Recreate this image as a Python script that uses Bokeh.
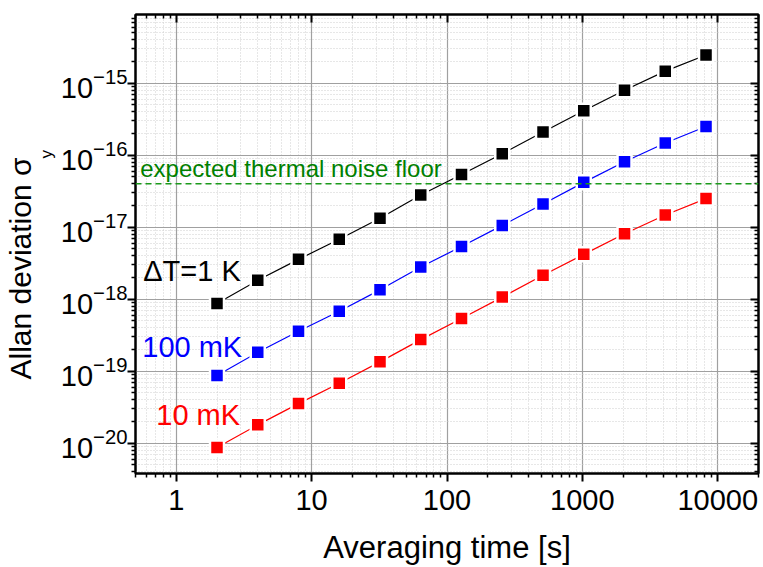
from bokeh.plotting import figure
from bokeh.models import (LogAxis, FixedTicker, LogTickFormatter, NumeralTickFormatter,
                          CustomJSTickFormatter, Label, Span, Title)
from bokeh.embed import file_html
from bokeh.resources import INLINE

# ---- data ----
tau = [2, 4, 8, 16, 32, 64, 128, 256, 512, 1024, 2048, 4096, 8192]
sigma_1K = [8.7e-19, 1.83e-18, 3.58e-18, 6.8e-18, 1.33e-17, 2.8e-17, 5.4e-17,
            1.05e-16, 2.1e-16, 4.15e-16, 8.0e-16, 1.47e-15, 2.47e-15]
sigma_100mK = [8.7e-20, 1.83e-19, 3.6e-19, 6.8e-19, 1.35e-18, 2.8e-18, 5.4e-18,
               1.06e-17, 2.1e-17, 4.2e-17, 8.1e-17, 1.48e-16, 2.5e-16]
sigma_10mK = [8.7e-21, 1.8e-20, 3.55e-20, 6.8e-20, 1.35e-19, 2.75e-19, 5.4e-19,
              1.07e-18, 2.15e-18, 4.2e-18, 8.1e-18, 1.48e-17, 2.5e-17]
noise_floor = 4.0e-17

x_ticks = [1, 10, 100, 1000, 10000]
y_ticks = [1e-20, 1e-19, 1e-18, 1e-17, 1e-16, 1e-15]

FONT = "Liberation Sans"

x_minor = [k * 10.0 ** e for e in range(-1, 5) for k in range(2, 10)]
y_minor = [k * 10.0 ** e for e in range(-22, -14) for k in range(2, 10)]

p = figure(width=763, height=567, x_axis_type="log", y_axis_type="log",
           x_range=(0.5, 20000), y_range=(3.8e-21, 9e-15),
           output_backend="svg", toolbar_location=None,
           min_border_left=135, min_border_right=5, min_border_top=14,
           min_border_bottom=93)
p.outline_line_color = "black"
p.outline_line_width = 2
p.background_fill_color = "white"
p.border_fill_color = "white"

xt = FixedTicker(ticks=x_ticks, minor_ticks=x_minor)
yt = FixedTicker(ticks=y_ticks, minor_ticks=y_minor)

xa = p.xaxis[0]
xa.ticker = xt
xa.formatter = NumeralTickFormatter(format="0")
ya = p.yaxis[0]
ya.ticker = yt
ya.formatter = LogTickFormatter()

for ax in (xa, ya):
    ax.axis_line_width = 2
    ax.axis_line_color = "black"
    ax.major_tick_line_width = 2
    ax.minor_tick_line_width = 1.5
    ax.major_tick_out = 8
    ax.major_tick_in = 0
    ax.minor_tick_out = 4
    ax.minor_tick_in = 0
    ax.major_label_text_font = FONT
    ax.major_label_text_font_size = "29px"
    ax.major_label_text_color = "black"
    ax.axis_label_text_font = FONT
    ax.axis_label_text_font_size = "31px"
    ax.axis_label_text_font_style = "normal"
    ax.axis_label_text_color = "black"

xa.axis_label = "Averaging time [s]"
xa.major_label_standoff = 8
ya.major_label_standoff = 0
xa.axis_label_standoff = 17

blank = CustomJSTickFormatter(code="return ''")
for ticker, loc in ((xt, "above"), (yt, "right")):
    ax = LogAxis(ticker=ticker, formatter=blank, major_label_text_font_size="2px",
                 major_label_standoff=0, axis_line_width=2,
                 major_tick_line_width=2, minor_tick_line_width=1.5,
                 major_tick_in=8, major_tick_out=0, minor_tick_in=4, minor_tick_out=0)
    p.add_layout(ax, loc)

for g, t in ((p.xgrid, xt), (p.ygrid, yt)):
    g.ticker = t
    g.grid_line_color = "#a0a0a0"
    g.grid_line_width = 1.2
    g.minor_grid_line_color = "#cfcfcf"
    g.minor_grid_line_dash = "1 2"
    g.minor_grid_line_width = 1

# noise floor
p.add_layout(Span(location=noise_floor, dimension="width", line_color="#1a9a1a",
                  line_dash="6 4", line_width=1.5))

for ys, c in ((sigma_1K, "black"), (sigma_100mK, "blue"), (sigma_10mK, "red")):
    p.line(tau, ys, line_color=c, line_width=1.2)
    p.scatter(tau, ys, marker="square", size=14, fill_color=c,
              line_color="white", line_width=2.5)

labels = [
    ("expected thermal noise floor", 0.542, 6.5e-17, "24px", "#008000"),
    ("ΔT=1 K", 0.57, 2.5e-18, "29px", "black"),
    ("100 mK", 0.561, 2.15e-19, "29px", "blue"),
    ("10 mK", 0.712, 2.45e-20, "29px", "red"),
]
for txt, x, y, fs, col in labels:
    p.add_layout(Label(x=x, y=y, text=txt, text_font=FONT, text_font_size=fs,
                       text_color=col, text_baseline="alphabetic"))

# y-axis title with subscript, as side-panel titles
sub = Title(text="y", align="left", offset=315, standoff=0, vertical_align="top",
            text_font=FONT, text_font_size="17px", text_font_style="normal",
            text_color="black")
main = Title(text="Allan deviation σ", align="left", offset=94, standoff=0,
             vertical_align="bottom", text_font=FONT, text_font_size="30px",
             text_font_style="normal", text_color="black")
p.add_layout(sub, "left")
p.add_layout(main, "left")

open("out.html", "w").write(file_html(p, INLINE))
